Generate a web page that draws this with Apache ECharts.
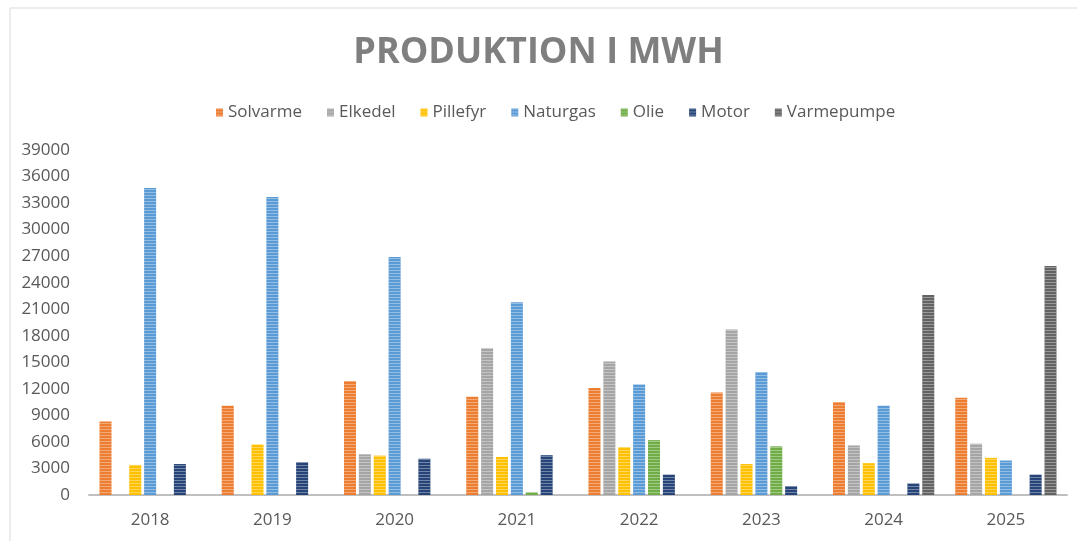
<!DOCTYPE html>
<html>
<head>
<meta charset="utf-8">
<script src="https://cdn.jsdelivr.net/npm/echarts@6/dist/echarts.min.js"></script>
<style>
html,body{margin:0;padding:0;background:#fff;}
#chart{width:1077px;height:541px;}
</style>
</head>
<body>
<div id="chart"></div>
<script>
var categories = ['2018','2019','2020','2021','2022','2023','2024','2025'];
var seriesNames = ['Solvarme','Elkedel','Pillefyr','Naturgas','Olie','Motor','Varmepumpe'];
var solvarme   = [8300, 10100, 12900, 11100, 12100, 11600, 10500, 11000];
var elkedel    = [0, 0, 4600, 16600, 15100, 18700, 5600, 5800];
var pillefyr   = [3400, 5700, 4450, 4300, 5400, 3500, 3600, 4200];
var naturgas   = [34700, 33700, 26900, 21800, 12500, 13900, 10100, 3900];
var olie       = [0, 0, 0, 300, 6200, 5500, 0, 0];
var motor      = [3500, 3700, 4100, 4500, 2300, 1000, 1300, 2300];
var varmepumpe = [0, 0, 0, 0, 0, 0, 22600, 25900];
var yTicks = {min: 0, max: 39000, interval: 3000};

var colors = ['#ED7D31','#A5A5A5','#FFC000','#5B9BD5','#70AD47','#264478','#636363'];
var allData = [solvarme, elkedel, pillefyr, naturgas, olie, motor, varmepumpe];

var chart = echarts.init(document.getElementById('chart'), null, {renderer: 'canvas'});
var series = seriesNames.map(function (name, i) {
  return {
    name: name,
    type: 'bar',
    data: allData[i],
    barWidth: 12,
    barGap: '24%',
    itemStyle: {
      color: colors[i],
      decal: {
        symbol: 'rect',
        symbolSize: 1,
        dashArrayX: [1, 0],
        dashArrayY: [1, 2],
        rotation: 0,
        color: 'rgba(255,255,255,0.35)'
      }
    }
  };
});

chart.setOption({
  animation: false,
  backgroundColor: '#ffffff',
  color: colors,
  title: {
    text: 'PRODUKTION I MWH',
    left: 'center',
    top: 30,
    textStyle: {
      fontFamily: 'Open Sans',
      fontWeight: 'bold',
      fontSize: 36,
      color: '#7F7F7F'
    }
  },
  legend: {
    top: 99,
    left: 211,
    itemWidth: 7,
    itemHeight: 8,
    itemGap: 25,
    icon: 'rect',
    textStyle: {fontFamily: 'Open Sans', fontSize: 17, color: '#595959'},
    data: seriesNames
  },
  grid: {left: 89, right: 10, top: 150, bottom: 46, containLabel: false},
  xAxis: {
    type: 'category',
    data: categories,
    axisLine: {lineStyle: {color: '#BFBFBF', width: 2}},
    axisTick: {show: false},
    axisLabel: {fontFamily: 'Open Sans', fontSize: 17, color: '#595959', margin: 17}
  },
  yAxis: {
    type: 'value',
    min: yTicks.min,
    max: yTicks.max,
    interval: yTicks.interval,
    splitLine: {show: false},
    axisLine: {show: false},
    axisTick: {show: false},
    axisLabel: {
      fontFamily: 'Open Sans', fontSize: 17, color: '#595959', margin: 19,
      formatter: function (v) { return String(v); }
    }
  },
  graphic: [{
    type: 'rect',
    shape: {x: 10, y: 8, width: 1100, height: 560},
    style: {fill: 'none', stroke: '#D9D9D9', lineWidth: 1},
    silent: true
  }],
  series: series
});
</script>
</body>
</html>
